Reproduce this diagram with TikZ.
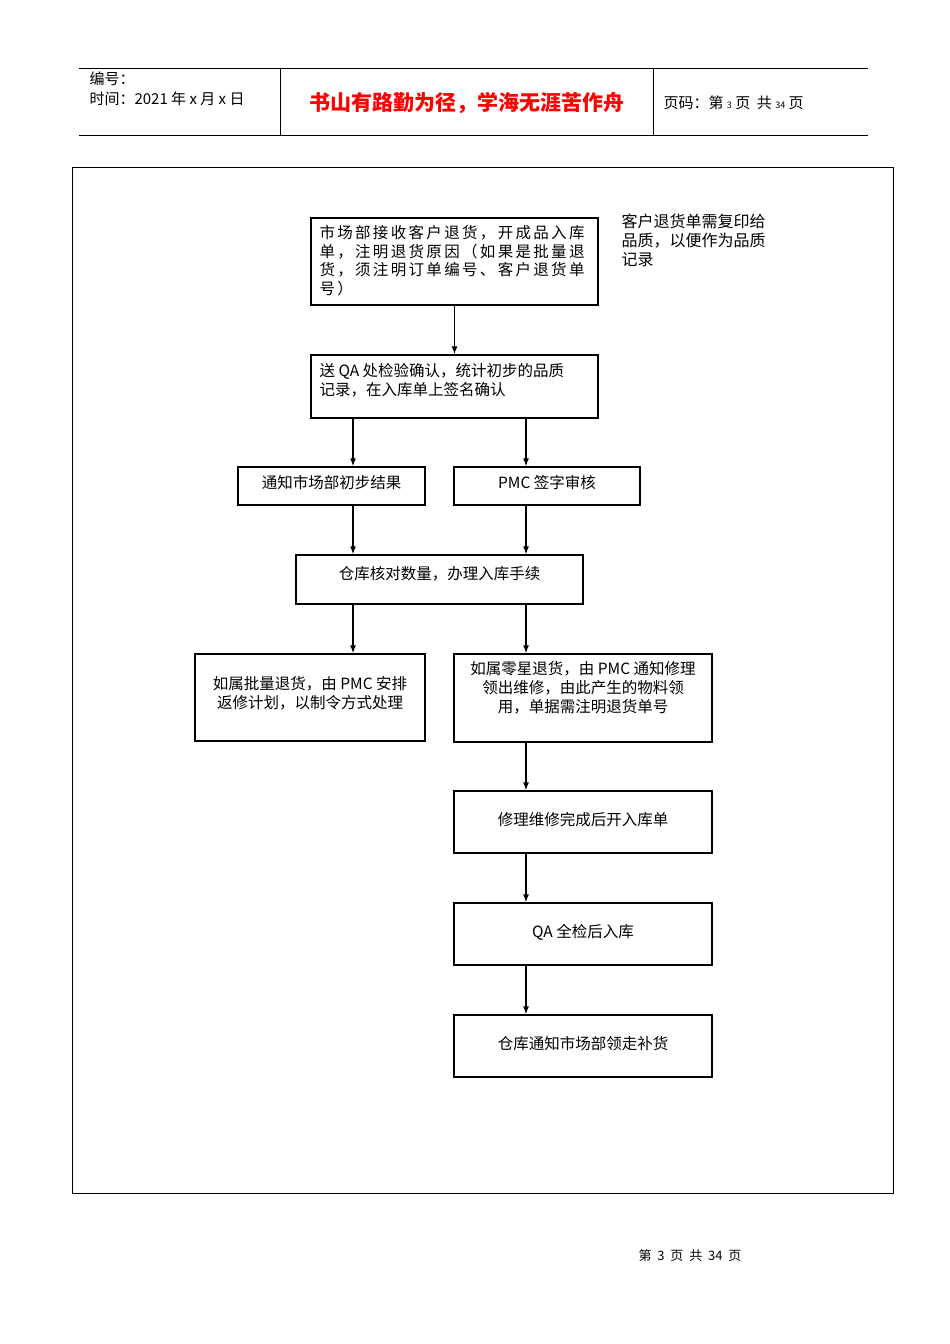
\documentclass[tikz,border=0pt]{standalone}
\usepackage{fontspec}
\usetikzlibrary{arrows.meta}
\setmainfont{Liberation Serif}
\newfontfamily\cjk{Noto Sans CJK SC}
\newfontfamily\cjkwide[LetterSpace=15]{Noto Sans CJK SC}
\begin{document}
\begin{tikzpicture}[x=1pt,y=-1pt,
  bx/.style={draw,line width=1.3pt,font=\cjk\fontsize{15}{18}\selectfont,align=center},
  tx/.style={font=\cjk\fontsize{15.5}{19}\selectfont,align=center},
  ar/.style={-{Latex[length=8pt,width=6pt]},line width=1.3pt}]
\useasboundingbox (0,0) rectangle (950,1344);
\fill[white] (0,0) rectangle (950,1344);
% header
\draw[line width=0.6pt] (79,68)--(868,68) (79,135)--(868,135) (280,68)--(280,135) (653,68)--(653,135);
\node[anchor=west,font=\cjk\fontsize{15}{17}\selectfont] (h1) at (86,79) {编号：};
\node[anchor=west,font=\cjk\fontsize{15}{17}\selectfont] (h2) at (86,99) {时间：2021 年 x 月 x 日};
\node[font=\cjk\bfseries\fontsize{21}{24}\selectfont,text=red] (h3) at (467,103) {书山有路勤为径，学海无涯苦作舟};
\node[anchor=west,font=\cjk\fontsize{15}{17}\selectfont] (h4) at (660,103) {页码：第 {\small 3} 页\ \ 共 {\small 34} 页};
% frame
\draw[line width=0.6pt] (72,167) rectangle (893,1193);
% boxes
\node[bx,minimum width=287,minimum height=87] (A) at (454.5,261.5) {};
\node[anchor=north west,font=\cjkwide\fontsize{15.5}{18.5}\selectfont,align=left] (At) at (316,222) {市场部接收客户退货，开成品入库\\单，注明退货原因（如果是批量退\\货，须注明订单编号、客户退货单\\号）};
\node[bx,minimum width=287,minimum height=63] (B) at (454.5,386.5) {};
\node[anchor=north west,font=\cjk\fontsize{15.5}{19}\selectfont,align=left] (Bt) at (316,360) {送 QA 处检验确认，统计初步的品质\\记录，在入库单上签名确认};
\node[bx,minimum width=187,minimum height=38] (C) at (331.5,486) {};
\node[tx] (Ct) at (331.5,483) {通知市场部初步结果};
\node[bx,minimum width=186,minimum height=38] (D) at (547,486) {};
\node[tx] (Dt) at (547,483) {PMC 签字审核};
\node[bx,minimum width=287,minimum height=49] (E) at (439.5,579.5) {};
\node[tx] (Et) at (439.5,574) {仓库核对数量，办理入库手续};
\node[bx,minimum width=230,minimum height=87] (F) at (310,697.5) {};
\node[font=\cjk\fontsize{15.5}{19}\selectfont,align=center] (Ft) at (310,693) {如属批量退货，由 PMC 安排\\返修计划，以制令方式处理};
\node[bx,minimum width=258,minimum height=88] (G) at (583,698) {};
\node[font=\cjk\fontsize{15.5}{19}\selectfont,align=center] (Gt) at (583,688) {如属零星退货，由 PMC 通知修理\\领出维修，由此产生的物料领\\用，单据需注明退货单号};
\node[bx,minimum width=258,minimum height=62] (H) at (583,822) {};
\node[tx] (Ht) at (583,820) {修理维修完成后开入库单};
\node[bx,minimum width=258,minimum height=62] (I) at (583,934) {};
\node[tx] (It) at (583,932) {QA 全检后入库};
\node[bx,minimum width=258,minimum height=62] (J) at (583,1046) {};
\node[tx] (Jt) at (583,1044) {仓库通知市场部领走补货};
% note
\node[anchor=north west,font=\cjk\fontsize{16}{19}\selectfont,align=left] (N) at (618,210) {客户退货单需复印给\\品质，以便作为品质\\记录};
% arrows
\draw[ar] (A.south) -- (B.north);
\draw[ar] (B.south -| 353,0) -- (C.north -| 353,0);
\draw[ar] (B.south -| 526,0) -- (D.north -| 526,0);
\draw[ar] (C.south -| 353,0) -- (E.north -| 353,0);
\draw[ar] (D.south -| 526,0) -- (E.north -| 526,0);
\draw[ar] (E.south -| 353,0) -- (F.north -| 353,0);
\draw[ar] (E.south -| 526,0) -- (G.north -| 526,0);
\draw[ar] (G.south -| 526,0) -- (H.north -| 526,0);
\draw[ar] (H.south -| 526,0) -- (I.north -| 526,0);
\draw[ar] (I.south -| 526,0) -- (J.north -| 526,0);
% footer
\node[font=\cjk\fontsize{13}{16}\selectfont] (ft) at (690,1256) {第\ \ 3\ \ 页\ \ 共\ \ 34\ \ 页};
\end{tikzpicture}
\end{document}
